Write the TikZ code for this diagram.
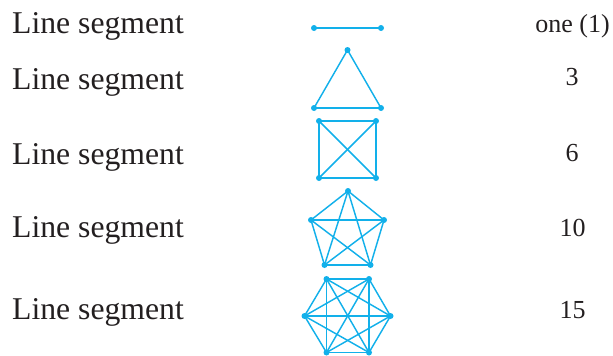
\documentclass[tikz,border=0pt]{standalone}
\usepackage{fontspec}
\setmainfont{Liberation Serif}
\usepackage{xcolor}
\usepackage{tikz}
\usetikzlibrary{positioning}
\definecolor{GraphBlue}{HTML}{12B0EA}
\definecolor{TextBlack}{HTML}{231F20}
\tikzset{
  every picture/.style = {line join=round, line cap=round},
  vertex/.style = {
    circle,
    fill=GraphBlue,
    inner sep=0pt,
    minimum size=6pt
  },
  edge/.style = {draw=GraphBlue, line width=1.45pt, shorten <=-1pt, shorten >=-1pt},
  row label/.style = {
    anchor=base west,
    inner sep=0pt,
    font=\fontsize{31.7}{37}\selectfont,
    text=TextBlack
  },
  count label/.style = {
    anchor=base,
    inner sep=0pt,
    font=\fontsize{26}{31}\selectfont,
    text=TextBlack
  },
}

\begin{document}
\begin{tikzpicture}[x=1pt,y=-1pt]
  \useasboundingbox (0,0) rectangle (613,356);

  % labels on the left
  \node[row label] (name1) at (12,33.0) {Line segment};
  \node[row label] (name2) at (12,89.3) {Line segment};
  \node[row label] (name3) at (12,164.0) {Line segment};
  \node[row label] (name4) at (12,237.3) {Line segment};
  \node[row label] (name5) at (12,319.3) {Line segment};

  % counts on the right
  \node[count label] (count1) at (572.5,32.7) {one (1)};
  \node[count label] (count2) at (572,85.0) {3};
  \node[count label] (count3) at (572,161.7) {6};
  \node[count label] (count4) at (572.5,236.7) {10};
  \node[count label] (count5) at (572.5,318.0) {15};

  % two points
  \node[vertex] (s1) at (314,28) {};
  \node[vertex] (s2) at (381,28) {};
  \draw[edge] (s1) -- (s2);

  % three points
  \node[vertex] (t1) at (347.5,50) {};
  \node[vertex] (t2) at (314,108) {};
  \node[vertex] (t3) at (381,108) {};
  \foreach \i/\j in {1/2,1/3,2/3}
    \draw[edge] (t\i) -- (t\j);

  % four points
  \node[vertex] (q1) at (319,121) {};
  \node[vertex] (q2) at (376,121) {};
  \node[vertex] (q3) at (376,178) {};
  \node[vertex] (q4) at (319,178) {};
  \foreach \i in {1,...,3}{
    \pgfmathtruncatemacro\k{\i+1}
    \foreach \j in {\k,...,4}
      \draw[edge] (q\i) -- (q\j);
  }

  % five points
  \node[vertex] (p1) at (348,191) {};
  \node[vertex] (p2) at (384,220) {};
  \node[vertex] (p3) at (370.5,265) {};
  \node[vertex] (p4) at (324.5,265) {};
  \node[vertex] (p5) at (311,220) {};
  \foreach \i in {1,...,4}{
    \pgfmathtruncatemacro\k{\i+1}
    \foreach \j in {\k,...,5}
      \draw[edge] (p\i) -- (p\j);
  }

  % six points
  \node[vertex] (h1) at (326.5,279) {};
  \node[vertex] (h2) at (369,279) {};
  \node[vertex] (h3) at (390.5,316) {};
  \node[vertex] (h4) at (369,352.5) {};
  \node[vertex] (h5) at (326.5,352.5) {};
  \node[vertex] (h6) at (304.5,316) {};
  \foreach \i in {1,...,5}{
    \pgfmathtruncatemacro\k{\i+1}
    \foreach \j in {\k,...,6}
      \draw[edge] (h\i) -- (h\j);
  }
\end{tikzpicture}
\end{document}
